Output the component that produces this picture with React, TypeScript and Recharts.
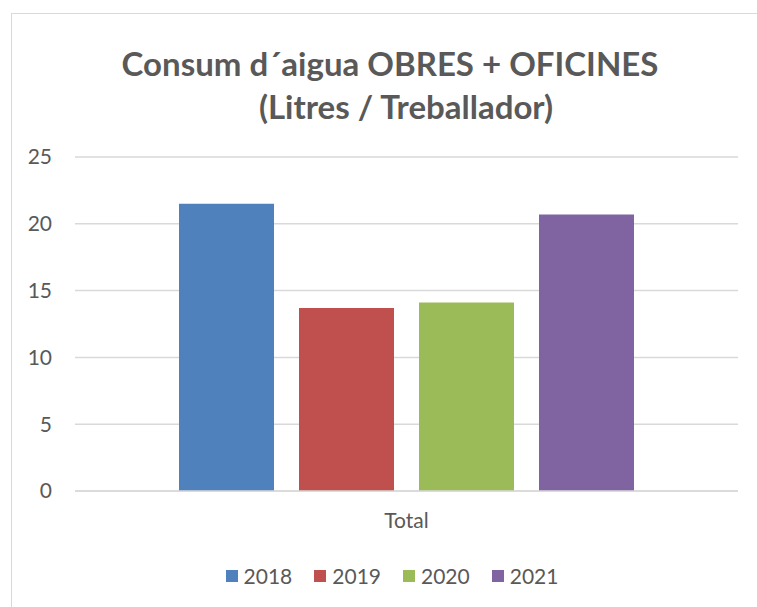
import { BarChart, Bar, CartesianGrid, XAxis, YAxis, Legend } from "recharts";

const categories = ["Total"];
const years = ["2018", "2019", "2020", "2021"];
const values2018 = [21.5];
const values2019 = [13.7];
const values2020 = [14.1];
const values2021 = [20.7];
const yTicks = [0, 5, 10, 15, 20, 25];

const colors = ["#4F81BD", "#C0504D", "#9BBB59", "#8064A2"];
const series = [values2018, values2019, values2020, values2021];

const data = categories.map((name, i) => {
  const row: Record<string, string | number> = { name };
  years.forEach((y, k) => {
    row[y] = series[k][i];
  });
  return row;
});

const FONT = "Lato, 'Open Sans', sans-serif";
const TEXT = "#595959";

const renderLegend = (props: any) => {
  const items = props.payload || [];
  return (
    <div style={{ display: "flex", justifyContent: "center", fontFamily: FONT, fontSize: 21, color: TEXT }}>
      {items.map((it: any, i: number) => (
        <div
          key={it.value}
          style={{ display: "flex", alignItems: "center", marginRight: i < items.length - 1 ? 22 : 0 }}
        >
          <span style={{ width: 12, height: 12, background: it.color, marginRight: 6, display: "inline-block" }} />
          <span>{it.value}</span>
        </div>
      ))}
    </div>
  );
};

const titleStyle = {
  position: "absolute" as const,
  left: 0,
  textAlign: "center" as const,
  fontFamily: FONT,
  fontWeight: 700,
  fontSize: 33,
  color: TEXT,
  lineHeight: "44px",
};

export default function App() {
  return (
    <div style={{ position: "fixed", left: 0, top: 0, width: 757, height: 607, overflow: "hidden", background: "#fff" }}>
      <div
        style={{
          position: "absolute",
          left: 11,
          top: 13,
          width: 760,
          height: 620,
          borderTop: "1px solid #d9d9d9",
          borderLeft: "1px solid #d9d9d9",
          background: "#fff",
        }}
      >
        <div style={{ ...titleStyle, top: 27, width: 756 }}>Consum d´aigua OBRES + OFICINES</div>
        <div style={{ ...titleStyle, top: 70, width: 788 }}>(Litres / Treballador)</div>
        <BarChart
          width={745}
          height={590}
          data={data}
          barSize={95}
          barGap={25}
          margin={{ top: 143, right: 19, bottom: 73, left: 0 }}
        >
          <CartesianGrid vertical={false} stroke="#d9d9d9" strokeWidth={1.5} />
          <XAxis
            dataKey="name"
            axisLine={{ stroke: "#d9d9d9", strokeWidth: 1.5 }}
            tickLine={false}
            tickSize={0}
            tickMargin={22}
            height={40}
            tick={{ fill: TEXT, fontSize: 21, fontFamily: FONT }}
          />
          <YAxis
            domain={[0, 25]}
            ticks={yTicks}
            axisLine={false}
            tickLine={false}
            tickSize={0}
            tickMargin={23}
            width={63}
            tick={{ fill: TEXT, fontSize: 21, fontFamily: FONT }}
          />
          <Legend
            verticalAlign="middle"
            align="center"
            content={renderLegend}
            wrapperStyle={{ top: 549, left: 0, width: 760 }}
          />
          {years.map((y, k) => (
            <Bar key={y} dataKey={y} fill={colors[k]} isAnimationActive={false} />
          ))}
        </BarChart>
      </div>
    </div>
  );
}
